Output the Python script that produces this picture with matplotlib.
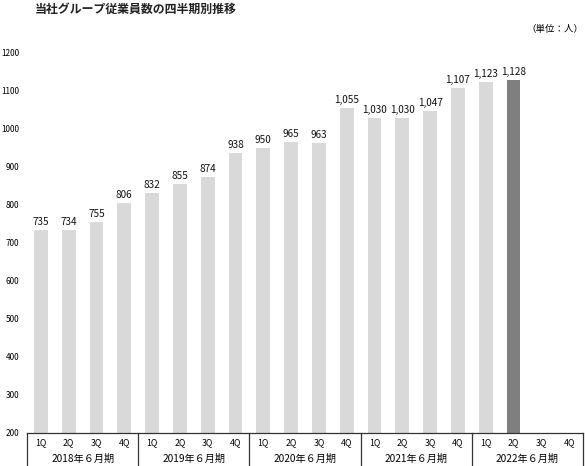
import matplotlib
matplotlib.use("Agg")
import matplotlib.pyplot as plt
from matplotlib.transforms import blended_transform_factory

plt.rcParams['font.family'] = ['Noto Sans CJK JP', 'DejaVu Sans']

years = ["2018年６月期", "2019年６月期", "2020年６月期", "2021年６月期", "2022年６月期"]
quarters = ["1Q", "2Q", "3Q", "4Q"]
values = [735, 734, 755, 806,
          832, 855, 874, 938,
          950, 965, 963, 1055,
          1030, 1030, 1047, 1107,
          1123, 1128, None, None]
highlight_index = 17
yticks = [200, 300, 400, 500, 600, 700, 800, 900, 1000, 1100, 1200]

W, H = 585, 466
fig = plt.figure(figsize=(W / 100, H / 100), dpi=100)
ax = fig.add_axes([27 / W, (H - 433) / H, 556 / W, (433 - 53) / H])

n = len(values)
for i, v in enumerate(values):
    if v is None:
        continue
    c = '#7f7f7f' if i == highlight_index else '#d9d9d9'
    ax.bar(i, v - 200, bottom=200, width=0.5, color=c, zorder=2)
    ax.text(i, v + 8, f"{v:,}", ha='center', va='bottom', fontsize=7.2, color='#111111')

ax.set_xlim(-0.5, n - 0.5)
ax.set_ylim(200, 1200)
ax.set_yticks(yticks)
ax.set_yticklabels([str(t) for t in yticks], fontsize=5.9)
ax.tick_params(axis='y', length=0, pad=5.5)
ax.set_xticks([])
for s in ['top', 'right', 'left']:
    ax.spines[s].set_visible(False)
ax.spines['bottom'].set_color('#333333')
ax.spines['bottom'].set_linewidth(0.9)

tr = blended_transform_factory(ax.transData, ax.transAxes)
ax_h_px = 433 - 53
bottom_ax = -(H - 433) / ax_h_px - 0.01
for g in range(len(years) + 1):
    xg = g * 4 - 0.5
    ax.plot([xg, xg], [0, bottom_ax], transform=tr, color='#333333', lw=0.9, clip_on=False)
for g, yl in enumerate(years):
    for q, ql in enumerate(quarters):
        ax.text(g * 4 + q, -(443 - 433) / ax_h_px, ql, transform=tr, ha='center', va='center', fontsize=6.3)
    ax.text(g * 4 + 1.5, -(459 - 433) / ax_h_px, yl, transform=tr, ha='center', va='center', fontsize=7.3)

fig.text(35 / W, 1 - 9 / H, "当社グループ従業員数の四半期別推移", ha='left', va='center',
         fontsize=8.6, fontweight='bold', color='#222222')
fig.text(583 / W, 1 - 29 / H, "（単位：人）", ha='right', va='center', fontsize=6.8)

fig.savefig("out.png", dpi=100)
